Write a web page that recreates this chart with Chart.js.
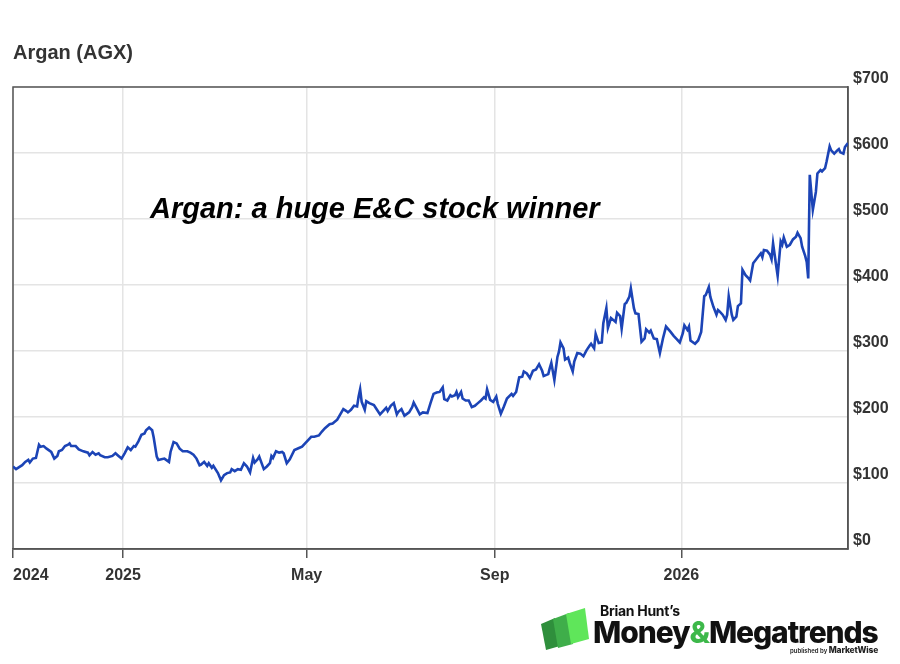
<!DOCTYPE html>
<html>
<head>
<meta charset="utf-8">
<script src="https://cdn.jsdelivr.net/npm/chart.js@4.4.1/dist/chart.umd.min.js"></script>
<style>
  html, body { margin: 0; padding: 0; background: #ffffff; }
  #wrap { position: relative; width: 900px; height: 664px; overflow: hidden; background: #fff; }
  #c { position: absolute; left: 0; top: 0; }
  #title { position: absolute; left: 13px; top: 41px; font: bold 20px "Liberation Sans", Arial, sans-serif; color: #333; }
  #note { position: absolute; left: 150px; top: 192px; font: italic bold 29px "Liberation Sans", Arial, sans-serif; color: #000; white-space: nowrap; }
  #logo { position: absolute; left: 538px; top: 602px; width: 350px; height: 58px; }
  #logo .l1 { position: absolute; left: 62px; top: 0px; font: 700 14px Inter, "Liberation Sans", sans-serif; color: #111; letter-spacing: -0.3px; }
  #logo .l2 { position: absolute; left: 55px; top: 12px; font: 800 30px Inter, "Liberation Sans", sans-serif; color: #111; letter-spacing: -1.1px; white-space: nowrap; }
  #logo .l2 span { color: #3db84a; }
  #logo .l3 { position: absolute; left: 252px; top: 43px; font: 600 6px Inter, "Liberation Sans", sans-serif; color: #222; white-space: nowrap; }
  #logo .l3 b { font-weight: 800; font-size: 8.5px; letter-spacing: -0.2px; }
</style>
</head>
<body>
<div id="wrap">
  <canvas id="c" width="900" height="664"></canvas>
  <div id="title">Argan (AGX)</div>
  <div id="note">Argan: a huge E&amp;C stock winner</div>
  <div id="logo">
    <svg width="56" height="46" style="position:absolute;left:0;top:4px">
      <polygon points="3,18 17,12 22,40 8,44" fill="#2f8f3c"/>
      <polygon points="15,13 31,7 35,38 20,42" fill="#3fae4a"/>
      <polygon points="28,8 47,2 51,33 33,38" fill="#5fe65a"/>
    </svg>
    <div class="l1">Brian Hunt’s</div>
    <div class="l2">Money<span>&amp;</span>Megatrends</div>
    <div class="l3">published by <b>MarketWise</b></div>
  </div>
</div>
<script>
// ---- Data ----
// x values are calendar-day offsets from the axis start (about 21 Oct 2024)
const days = [0,2,6,8,10,11,13,15,17,18,20,22,25,27,29,30,32,34,36,37,38,41,43,46,49,50,52,54,56,57,60,62,65,67,69,71,73,75,77,79,80,82,84,86,87,89,91,92,94,95,97,99,102,103,105,107,109,111,114,116,118,120,122,123,125,127,128,130,131,134,136,138,140,142,143,145,147,149,151,153,155,157,158,160,161,164,166,168,169,170,172,174,176,177,179,181,184,187,189,191,193,195,197,200,202,204,207,209,212,214,216,218,219,221,223,225,226,227,228,230,231,233,236,238,240,242,244,245,247,249,251,252,254,256,259,261,262,264,266,268,271,273,275,277,279,281,282,284,286,287,289,290,291,293,294,296,298,300,302,304,306,308,309,310,312,314,316,317,319,321,323,326,327,329,331,333,334,336,338,340,342,344,346,347,350,351,352,354,356,357,358,360,361,363,364,366,367,369,371,373,375,377,378,380,381,383,385,386,388,389,391,393,394,395,397,398,400,401,403,404,406,407,409,411,413,414,416,417,419,421,423,425,427,430,432,434,436,438,439,441,442,443,446,448,450,452,453,455,456,458,460,461,462,464,466,467,468,470,471,473,474,476,477,479,481,482,484,486,489,490,491,493,495,496,497,499,500,502,503,504,506,508,510,512,513,515,516,518,519,520,521,523,525,526,528,529,531,532,534,535,537,539,540,541,543,544,546];
const prices = [125,121,127,132,135,131,137,138,158,155,156,152,147,137,141,148,150,156,158,160,156,156,151,148,146,142,147,143,145,142,139,139,141,145,141,137,145,154,150,156,155,163,173,175,180,184,180,169,140,135,136,137,132,147,162,160,152,148,148,146,143,137,127,128,132,126,130,123,126,115,104,112,115,116,121,118,121,120,130,125,116,138,131,136,140,121,125,130,141,138,148,146,147,145,130,136,150,153,155,160,165,170,170,172,178,183,189,190,196,204,212,209,207,211,217,216,231,242,223,211,224,221,218,211,204,209,214,209,217,221,204,208,212,202,207,215,222,213,204,207,206,221,235,237,238,245,227,225,233,231,233,238,230,238,228,225,225,215,217,221,225,230,228,242,226,223,231,220,205,216,228,235,232,238,260,261,269,266,259,270,272,280,270,262,265,274,282,256,291,299,313,304,287,290,282,269,284,297,296,292,301,308,311,304,326,312,313,342,365,335,350,346,344,358,353,334,371,373,382,395,365,357,356,314,319,333,328,331,319,318,297,319,337,329,323,318,313,327,339,332,337,316,311,316,329,383,385,397,382,367,355,362,360,355,347,355,383,355,347,352,368,372,423,415,410,407,433,439,448,442,453,452,446,439,463,430,414,466,461,472,458,461,469,473,479,471,458,444,435,410,567,514,541,569,574,572,577,587,610,604,599,604,606,601,599,609,615];

// x-axis ticks: day offsets of 1 Jan 2025, 1 May, 1 Sep, 1 Jan 2026 (plus axis start / end)
const tickDays   = [0, 72, 192, 315, 437, 546];
const tickLabels = ['2024', '2025', 'May', 'Sep', '2026', ''];
const yTicks = [0, 100, 200, 300, 400, 500, 600, 700];

const points = days.map((d, i) => ({ x: d, y: prices[i] }));

const frame = {
  id: 'frame',
  beforeDatasetsDraw(chart) {
    const a = chart.chartArea, ctx = chart.ctx;
    ctx.save();
    ctx.strokeStyle = '#555';
    ctx.lineWidth = 1.5;
    ctx.strokeRect(a.left, a.top, a.right - a.left, a.bottom - a.top);
    ctx.restore();
  }
};

new Chart(document.getElementById('c'), {
  type: 'line',
  data: {
    datasets: [{
      data: points,
      borderColor: '#1c44b6',
      borderWidth: 2.6,
      pointRadius: 0,
      tension: 0,
      fill: false
    }]
  },
  options: {
    responsive: false,
    animation: false,
    parsing: true,
    layout: { padding: { left: 13, top: 87, right: 0, bottom: 65 } },
    plugins: { legend: { display: false }, tooltip: { enabled: false }, title: { display: false } },
    scales: {
      x: {
        type: 'linear',
        position: 'bottom',
        min: tickDays[0],
        max: tickDays[tickDays.length - 1],
        afterBuildTicks(scale) { scale.ticks = tickDays.map(v => ({ value: v })); },
        afterFit(scale) { scale.height = 50; },
        grid: {
          color: '#e4e4e4',
          lineWidth: 1.5,
          drawTicks: true,
          tickLength: 9,
          tickWidth: 1.5,
          tickColor: (ctx) => (ctx.index === tickDays.length - 1 ? 'rgba(0,0,0,0)' : '#555')
        },
        border: { display: true, color: '#555', width: 1.5 },
        ticks: {
          autoSkip: false,
          maxRotation: 0,
          align: 'inner',
          padding: 8,
          color: '#333',
          font: { family: '"Liberation Sans", Arial, sans-serif', size: 16, weight: 'bold' },
          callback: (v, i) => tickLabels[i]
        }
      },
      y: {
        position: 'right',
        min: 0,
        max: 700,
        afterBuildTicks(scale) { scale.ticks = yTicks.map(v => ({ value: v })); },
        afterFit(scale) { scale.width = 52; },
        grid: { color: '#e4e4e4', lineWidth: 1.5, drawTicks: false },
        border: { display: true, color: '#555', width: 1.5 },
        ticks: {
          padding: 5,
          labelOffset: -8,
          color: '#333',
          font: { family: '"Liberation Sans", Arial, sans-serif', size: 16, weight: 'bold' },
          callback: (v) => '$' + v
        }
      }
    }
  },
  plugins: [frame]
});
</script>
</body>
</html>
